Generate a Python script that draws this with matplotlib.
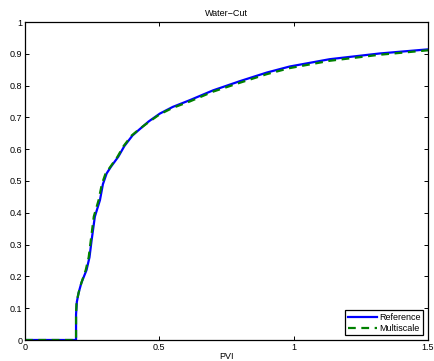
import matplotlib
matplotlib.use("Agg")
import matplotlib.pyplot as plt

ref_x = [0, 0.19, 0.19, 0.193, 0.2, 0.21, 0.229, 0.24, 0.248, 0.26, 0.279, 0.29, 0.304, 0.32,
         0.347, 0.37, 0.40, 0.427, 0.46, 0.502, 0.55, 0.613, 0.70, 0.80, 0.90, 0.985, 1.134, 1.32, 1.5]
ref_y = [0, 0, 0.08, 0.12, 0.15, 0.18, 0.22, 0.26, 0.314, 0.388, 0.44, 0.49, 0.524, 0.545,
         0.576, 0.61, 0.643, 0.663, 0.687, 0.712, 0.733, 0.754, 0.785, 0.814, 0.841, 0.86, 0.883, 0.901, 0.914]

ms_x = [0, 0.19, 0.19, 0.192, 0.2, 0.21, 0.226, 0.237, 0.245, 0.256, 0.274, 0.286, 0.300, 0.318,
        0.344, 0.367, 0.397, 0.425, 0.46, 0.502, 0.55, 0.613, 0.70, 0.80, 0.90, 0.985, 1.134, 1.32, 1.5]
ms_y = [0, 0, 0.08, 0.12, 0.15, 0.18, 0.22, 0.26, 0.314, 0.388, 0.44, 0.49, 0.524, 0.545,
        0.576, 0.61, 0.643, 0.663, 0.685, 0.710, 0.730, 0.750, 0.781, 0.809, 0.836, 0.855, 0.878, 0.897, 0.911]

x_ticks = [0, 0.5, 1, 1.5]
x_labels = ["0", "0.5", "1", "1.5"]
y_ticks = [0, 0.1, 0.2, 0.3, 0.4, 0.5, 0.6, 0.7, 0.8, 0.9, 1]
y_labels = ["0", "0.1", "0.2", "0.3", "0.4", "0.5", "0.6", "0.7", "0.8", "0.9", "1"]

plt.rcParams['font.family'] = ['Liberation Sans', 'DejaVu Sans']
fig = plt.figure(figsize=(4.34, 3.61), dpi=100)
ax = fig.add_axes([25/434, 1-340/361, (428-25)/434, (340-22)/361])
ax.plot(ref_x, ref_y, color='#0000ff', lw=1.6, label='Reference')
ax.plot(ms_x, ms_y, color='#008000', lw=1.6, ls=(0, (3.5, 2.5)), label='Multiscale')
ax.set_xlim(0, 1.5)
ax.set_ylim(0, 1)
ax.set_xticks(x_ticks)
ax.set_xticklabels(x_labels)
ax.set_yticks(y_ticks)
ax.set_yticklabels(y_labels)
ax.tick_params(direction='in', top=True, right=True, labelsize=6.5, length=3, width=0.7, pad=2)
for s in ax.spines.values():
    s.set_linewidth(0.9)
ax.set_title('Water\u2212Cut', fontsize=6.5, pad=4)
ax.set_xlabel('PVI', fontsize=6.5, labelpad=0)
leg = ax.legend(loc='lower right', fontsize=6.5, frameon=True, fancybox=False,
                edgecolor='black', framealpha=1, handlelength=3.2, borderpad=0.3,
                labelspacing=0.2, handletextpad=0.3, borderaxespad=0.5)
leg.get_frame().set_linewidth(0.9)
fig.savefig('out.png', dpi=100)
